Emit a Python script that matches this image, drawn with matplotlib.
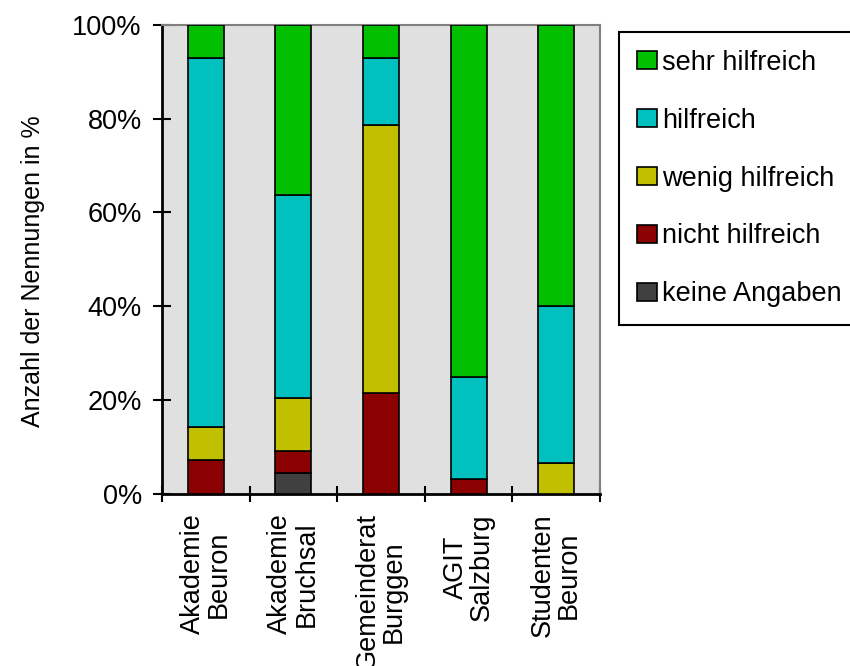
import matplotlib.pyplot as plt
import numpy as np

plt.rcParams['font.family'] = 'Liberation Sans'

# Data (Anteile in %)
gruppen = ['Akademie\nBeuron', 'Akademie\nBruchsal', 'Gemeinderat\nBurggen',
           'AGIT\nSalzburg', 'Studenten\nBeuron']
keine_angaben = [0, 4.55, 0, 0, 0]
nicht_hilfreich = [7.14, 4.55, 21.43, 3.13, 0]
wenig_hilfreich = [7.14, 11.36, 57.14, 0, 6.67]
hilfreich = [78.57, 43.18, 14.29, 21.88, 33.33]
sehr_hilfreich = [7.14, 36.36, 7.14, 75.0, 60.0]

serien = [
    ('keine Angaben', keine_angaben, '#404040'),
    ('nicht hilfreich', nicht_hilfreich, '#8B0000'),
    ('wenig hilfreich', wenig_hilfreich, '#C0C000'),
    ('hilfreich', hilfreich, '#00C0C0'),
    ('sehr hilfreich', sehr_hilfreich, '#00C000'),
]

fig = plt.figure(figsize=(8.5, 6.66), dpi=100)
ax = fig.add_axes([0.1906, 0.2583, 0.5153, 0.7046])
ax.set_facecolor('#E0E0E0')

x = np.arange(len(gruppen))
bottom = np.zeros(len(gruppen))
handles = []
for name, werte, farbe in serien:
    werte = np.array(werte, dtype=float)
    mask = werte > 0
    bars = ax.bar(x[mask], werte[mask], width=0.41, bottom=bottom[mask],
                  color=farbe, edgecolor='black', linewidth=1.2, label=name, zorder=3)
    handles.append(bars)
    bottom += werte

ax.set_xlim(-0.5, len(gruppen) - 0.5)
ax.set_ylim(0, 100)

ax.set_yticks(np.arange(0, 101, 20))
ax.set_yticklabels([f'{v}%' for v in range(0, 101, 20)])
ax.tick_params(axis='y', direction='inout', length=13, width=1.5, pad=8, labelsize=19.5)

ax.set_xticks(x)
ax.set_xticklabels(gruppen, rotation=90, multialignment='center', fontsize=19.5,
                   linespacing=1.0)
ax.set_xticks(np.arange(-0.5, len(gruppen), 1), minor=True)
ax.tick_params(axis='x', which='major', length=0, pad=14)
ax.tick_params(axis='x', which='minor', direction='inout', length=11, width=1.5)

for side in ['left', 'bottom']:
    ax.spines[side].set_linewidth(2)
    ax.spines[side].set_color('black')
for side in ['top', 'right']:
    ax.spines[side].set_linewidth(1.5)
    ax.spines[side].set_color('#808080')

ax.set_ylabel('Anzahl der Nennungen in %', fontsize=18)
ax.yaxis.set_label_coords(-0.268, 0.474)

leg = ax.legend(handles[::-1], [s[0] for s in serien][::-1],
                loc='upper left', bbox_to_anchor=(619 / 850, 1 - 32 / 666),
                bbox_transform=fig.transFigure, fontsize=19.5, frameon=True,
                fancybox=False, edgecolor='black', framealpha=1,
                handlelength=0.75, handleheight=0.65, handletextpad=0.2,
                labelspacing=1.18, borderpad=0.65, borderaxespad=0)
leg.get_frame().set_linewidth(1.5)

fig.savefig('out.png', dpi=100)
